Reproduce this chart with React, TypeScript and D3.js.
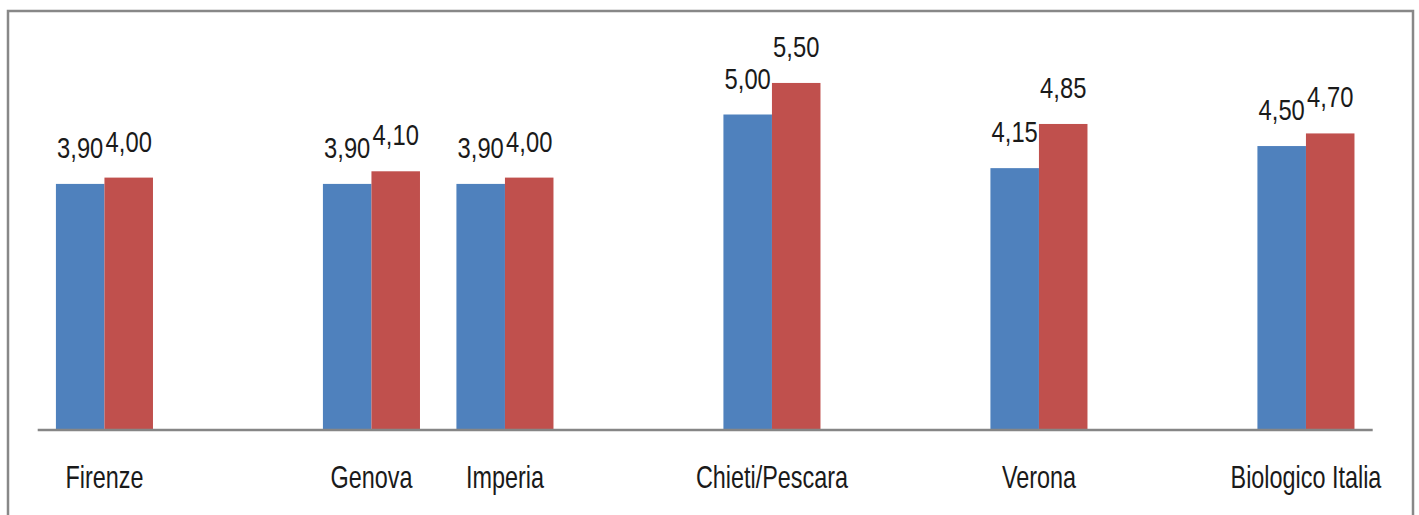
import React from "react";
import * as d3 from "d3";

const categories: (string | null)[] = [
  "Firenze", null, "Genova", "Imperia", null, "Chieti/Pescara", null, "Verona", null, "Biologico Italia",
];
const seriesA: (number | null)[] = [3.9, null, 3.9, 3.9, null, 5.0, null, 4.15, null, 4.5];
const seriesB: (number | null)[] = [4.0, null, 4.1, 4.0, null, 5.5, null, 4.85, null, 4.7];
const seriesColors = ["#4F81BD", "#C0504D"];

const W = 1419;
const H = 515;
const baseY = 430;
const fmt = (v: number) => v.toFixed(2).replace(".", ",");

export default function App() {
  const idx = categories.map((_, i) => String(i));
  const x = d3.scaleBand<string>().domain(idx).range([37.7, 1372.7]).paddingInner(0.273).paddingOuter(0.1365);
  const xs = d3.scaleBand<string>().domain(["a", "b"]).range([0, x.bandwidth()]);
  const y = d3.scaleLinear().domain([0, 6]).range([baseY, baseY - 6 * 63.1]);
  const series = [
    { key: "a", values: seriesA, color: seriesColors[0] },
    { key: "b", values: seriesB, color: seriesColors[1] },
  ];
  const font = "'Liberation Sans', Arial, sans-serif";

  return (
    <svg width={W} height={H} style={{ position: "absolute", left: 0, top: 0, display: "block", background: "#fff" }}>
      <rect x={8} y={11} width={1405} height={H + 20} fill="#fff" stroke="#888" strokeWidth={2.5} />
      {series.map((s) =>
        s.values.map((v, i) => {
          if (v == null) return null;
          const x0 = (x(String(i)) as number) + (xs(s.key) as number);
          return (
            <rect key={s.key + i} x={x0} y={y(v)} width={xs.bandwidth()} height={baseY - y(v)} fill={s.color} />
          );
        })
      )}
      <line x1={37.7} x2={1372.7} y1={baseY} y2={baseY} stroke="#868686" strokeWidth={2.5} />
      {series.map((s) =>
        s.values.map((v, i) => {
          if (v == null) return null;
          const cx = (x(String(i)) as number) + (xs(s.key) as number) + xs.bandwidth() / 2;
          const ty = y(v) - 26;
          return (
            <text
              key={"l" + s.key + i}
              transform={`translate(${cx},${ty}) scale(0.82,1)`}
              textAnchor="middle"
              fontFamily={font}
              fontSize={29}
              fill="#1a1a1a"
            >
              {fmt(v)}
            </text>
          );
        })
      )}
      {categories.map((c, i) => {
        if (!c) return null;
        const cx = (x(String(i)) as number) + x.bandwidth() / 2;
        return (
          <text
            key={"c" + i}
            transform={`translate(${cx},488) scale(0.755,1)`}
            textAnchor="middle"
            fontFamily={font}
            fontSize={31}
            fill="#1a1a1a"
          >
            {c}
          </text>
        );
      })}
    </svg>
  );
}
